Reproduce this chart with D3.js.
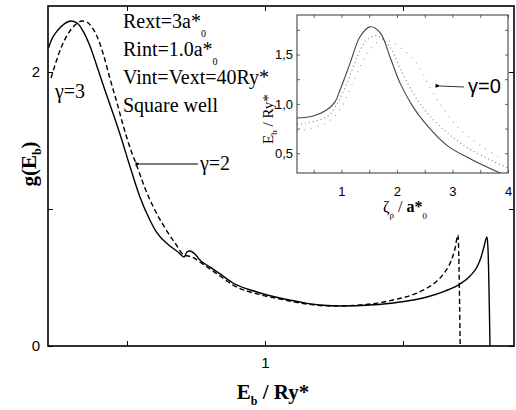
<!DOCTYPE html>
<html>
<head>
<meta charset="utf-8">
<script src="https://cdn.jsdelivr.net/npm/d3@7"></script>
<style>
  body { margin: 0; background: #fff; }
  svg { display: block; }
</style>
</head>
<body>
<div id="graph-container"></div>
<script>
// main panel: g(Eb) vs Eb / Ry*
var gamma3 = [
  [0.2156, 2.175], [0.228, 2.241], [0.250, 2.307], [0.272, 2.350], [0.297, 2.372],
  [0.319, 2.358], [0.341, 2.299], [0.366, 2.190], [0.391, 2.044], [0.420, 1.869],
  [0.449, 1.701], [0.478, 1.526], [0.507, 1.336], [0.547, 1.088], [0.583, 0.920],
  [0.609, 0.825], [0.656, 0.730], [0.685, 0.686], [0.707, 0.650], [0.717, 0.686],
  [0.728, 0.693], [0.746, 0.672], [0.764, 0.628], [0.801, 0.576], [0.837, 0.526],
  [0.884, 0.460], [0.971, 0.394], [1.054, 0.350], [1.127, 0.321], [1.199, 0.299],
  [1.283, 0.292], [1.380, 0.299], [1.489, 0.321], [1.587, 0.358], [1.652, 0.401],
  [1.707, 0.453], [1.743, 0.511], [1.768, 0.577], [1.783, 0.650], [1.793, 0.723],
  [1.804, 0.796], [1.808, 0.700], [1.815, 0]
];
var gamma2 = [
  [0.225, 1.956], [0.243, 2.073], [0.264, 2.190], [0.286, 2.277], [0.312, 2.343],
  [0.337, 2.372], [0.355, 2.365], [0.373, 2.328], [0.391, 2.263], [0.413, 2.139],
  [0.438, 1.956], [0.464, 1.774], [0.489, 1.591], [0.514, 1.431], [0.536, 1.314],
  [0.565, 1.153], [0.601, 0.993], [0.638, 0.861], [0.674, 0.752], [0.707, 0.664],
  [0.736, 0.650], [0.764, 0.613], [0.801, 0.562], [0.837, 0.511], [0.884, 0.445],
  [0.971, 0.380], [1.054, 0.343], [1.127, 0.314], [1.236, 0.292], [1.344, 0.299],
  [1.464, 0.336], [1.543, 0.380], [1.587, 0.423], [1.623, 0.474], [1.652, 0.540],
  [1.674, 0.620], [1.688, 0.708], [1.699, 0.810], [1.707, 0]
];
var mainXTicks = [0.5, 1, 1.5];
var mainXLabels = { 1: "1" };
var mainYTicks = [0, 1, 2];
var mainYLabels = { 0: "0", 2: "2" };

// inset: Eb / Ry* vs zeta_rho / a*0
var insetSolid = [
  [0.2, 0.857], [0.49, 0.877], [0.74, 0.94], [0.885, 1.02], [0.975, 1.14],
  [1.155, 1.41], [1.335, 1.68], [1.515, 1.78], [1.70, 1.72], [1.875, 1.475],
  [2.056, 1.21], [2.29, 0.97], [2.50, 0.81], [2.90, 0.58], [3.37, 0.43], [3.86, 0.30]
];
var insetDotted = [
  [0.2, 0.79], [0.74, 0.87], [0.92, 1.0], [1.10, 1.21], [1.28, 1.47],
  [1.46, 1.65], [1.64, 1.69], [1.87, 1.58], [2.05, 1.37], [2.29, 1.11],
  [2.54, 0.91], [2.90, 0.71], [3.26, 0.56], [3.73, 0.42], [4.0, 0.35]
];
var insetGamma0 = [
  [0.2, 0.72], [0.74, 0.81], [0.97, 0.94], [1.15, 1.14], [1.33, 1.37],
  [1.51, 1.55], [1.75, 1.65], [1.93, 1.62], [2.36, 1.41], [2.6, 1.16],
  [2.83, 0.96], [3.1, 0.76], [3.5, 0.58], [3.9, 0.44]
];
var insetXTicks = [0.5, 1, 1.5, 2, 2.5, 3, 3.5, 4];
var insetYTicks = [0.5, 0.75, 1.0, 1.25, 1.5, 1.75];
var insetYLabels = { 0.5: "0,5", 1: "1,0", 1.5: "1,5" };

var serif = "Liberation Serif";
var sans = "Liberation Sans";

var svg = d3.select("#graph-container")
  .append("svg")
    .attr("width", 516)
    .attr("height", 410);

svg.append("defs").append("marker")
    .attr("id", "arrow")
    .attr("viewBox", "0 0 10 10")
    .attr("refX", 1).attr("refY", 5)
    .attr("markerWidth", 6).attr("markerHeight", 5)
    .attr("orient", "auto-start-reverse")
  .append("path")
    .attr("d", "M10,1 L0,5 L10,9 Z")
    .attr("fill", "#000");

function txt(sel, family, size, weight) {
  return sel.attr("font-family", family)
    .attr("font-size", size)
    .attr("font-weight", weight || "normal");
}

// ---- main panel ----
var x = d3.scaleLinear().domain([0.214, 1.902]).range([48, 514]);
var y = d3.scaleLinear().domain([0, 2.482]).range([346, 6]);

var main = svg.append("g");

var line = d3.line()
    .x(function(d) { return x(d[0]); })
    .y(function(d) { return y(d[1]); })
    .curve(d3.curveMonotoneX);

main.append("path")
    .datum(gamma2)
    .attr("fill", "none")
    .attr("stroke", "#000")
    .attr("stroke-width", 1.4)
    .attr("stroke-dasharray", "5,3")
    .attr("d", line);

main.append("path")
    .datum(gamma3)
    .attr("fill", "none")
    .attr("stroke", "#000")
    .attr("stroke-width", 1.4)
    .attr("d", line);

function styleAxis(g, color) {
  g.select(".domain").remove();
  g.selectAll(".tick line").attr("stroke", color);
  g.selectAll("text").attr("fill", "#000");
}

main.append("g")
    .attr("transform", "translate(0,346)")
    .call(d3.axisBottom(x).tickValues(mainXTicks).tickSizeInner(-5).tickPadding(11)
      .tickFormat(function(d) { return mainXLabels[d] || ""; }))
    .call(styleAxis, "#000")
    .call(txt, sans, 15);

main.append("g")
    .attr("transform", "translate(0,6)")
    .call(d3.axisTop(x).tickValues(mainXTicks).tickSizeInner(-5).tickFormat(""))
    .call(styleAxis, "#000");

main.append("g")
    .attr("transform", "translate(48,0)")
    .call(d3.axisLeft(y).tickValues(mainYTicks).tickSizeInner(-5).tickPadding(8)
      .tickFormat(function(d) { return mainYLabels[d] || ""; }))
    .call(styleAxis, "#000")
    .call(txt, sans, 15);

main.append("g")
    .attr("transform", "translate(514,0)")
    .call(d3.axisRight(y).tickValues(mainYTicks).tickSizeInner(-5).tickFormat(""))
    .call(styleAxis, "#000");

main.append("rect")
    .attr("x", 48).attr("y", 6)
    .attr("width", 466).attr("height", 340)
    .attr("fill", "none")
    .attr("stroke", "#000")
    .attr("stroke-width", 1.6);

// parameter block
var params = [["Rext=3a*", "0"], ["Rint=1.0a*", "0"], ["Vint=Vext=40Ry*", ""], ["Square well", ""]];
params.forEach(function(p, i) {
  var t = main.append("text")
      .attr("x", 123).attr("y", 28 + i * 28)
      .call(txt, serif, 20);
  t.append("tspan").text(p[0]);
  if (p[1]) t.append("tspan").attr("dy", 9).attr("font-size", 10).text(p[1]);
});

main.append("text")
    .attr("x", 55).attr("y", 98)
    .call(txt, serif, 20)
    .text("\u03b3=3");

main.append("line")
    .attr("x1", 198).attr("y1", 164).attr("x2", 140).attr("y2", 164)
    .attr("stroke", "#000").attr("stroke-width", 1)
    .attr("marker-end", "url(#arrow)");
main.append("text")
    .attr("x", 200).attr("y", 170)
    .call(txt, serif, 20)
    .text("\u03b3=2");

// axis titles
var yt = main.append("text")
    .attr("transform", "translate(36,164) rotate(-90)")
    .attr("text-anchor", "middle")
    .call(txt, serif, 21, "bold");
yt.append("tspan").text("g(E");
yt.append("tspan").attr("dy", 5).attr("font-size", 12).text("b");
yt.append("tspan").attr("dy", -5).text(")");

var xt = main.append("text")
    .attr("x", 273).attr("y", 399)
    .attr("text-anchor", "middle")
    .call(txt, serif, 21, "bold");
xt.append("tspan").text("E");
xt.append("tspan").attr("dy", 6).attr("font-size", 12).text("b");
xt.append("tspan").attr("dy", -6).text(" / Ry*");

// ---- inset ----
var ix = d3.scaleLinear().domain([0.2, 4.0]).range([297, 508]);
var iy = d3.scaleLinear().domain([0.3, 1.9]).range([173, 15]);

var inset = svg.append("g");

inset.append("rect")
    .attr("x", 297).attr("y", 15)
    .attr("width", 211).attr("height", 158)
    .attr("fill", "#fff");

var iline = d3.line()
    .x(function(d) { return ix(d[0]); })
    .y(function(d) { return iy(d[1]); })
    .curve(d3.curveCatmullRom);

inset.append("path")
    .datum(insetGamma0)
    .attr("fill", "none")
    .attr("stroke", "#aaa")
    .attr("stroke-width", 1.2)
    .attr("stroke-dasharray", "1,6")
    .attr("d", iline);

inset.append("path")
    .datum(insetDotted)
    .attr("fill", "none")
    .attr("stroke", "#888")
    .attr("stroke-width", 1.2)
    .attr("stroke-dasharray", "1,3")
    .attr("d", iline);

inset.append("path")
    .datum(insetSolid)
    .attr("fill", "none")
    .attr("stroke", "#444")
    .attr("stroke-width", 1.1)
    .attr("d", iline);

inset.append("g")
    .attr("transform", "translate(0,173)")
    .call(d3.axisBottom(ix).tickValues(insetXTicks).tickSizeInner(-3).tickPadding(14)
      .tickFormat(function(d) { return d % 1 === 0 ? String(d) : ""; }))
    .call(styleAxis, "#666")
    .call(txt, sans, 13);

inset.append("g")
    .attr("transform", "translate(0,15)")
    .call(d3.axisTop(ix).tickValues(insetXTicks).tickSizeInner(-3).tickFormat(""))
    .call(styleAxis, "#666");

inset.append("g")
    .attr("transform", "translate(297,0)")
    .call(d3.axisLeft(iy).tickValues(insetYTicks).tickSizeInner(-3).tickPadding(4)
      .tickFormat(function(d) { return insetYLabels[d] || ""; }))
    .call(styleAxis, "#666")
    .call(txt, sans, 13);

inset.append("g")
    .attr("transform", "translate(508,0)")
    .call(d3.axisRight(iy).tickValues(insetYTicks).tickSizeInner(-3).tickFormat(""))
    .call(styleAxis, "#666");

inset.append("rect")
    .attr("x", 297).attr("y", 15)
    .attr("width", 211).attr("height", 158)
    .attr("fill", "none")
    .attr("stroke", "#333")
    .attr("stroke-width", 1);

inset.append("line")
    .attr("x1", 464).attr("y1", 87).attr("x2", 440).attr("y2", 86)
    .attr("stroke", "#333").attr("stroke-width", 1)
    .attr("marker-end", "url(#arrow)");
inset.append("text")
    .attr("x", 468).attr("y", 93)
    .call(txt, sans, 20)
    .text("\u03b3=0");

var iyt = inset.append("text")
    .attr("transform", "translate(273,119) rotate(-90)")
    .attr("text-anchor", "middle")
    .call(txt, serif, 15);
iyt.append("tspan").text("E");
iyt.append("tspan").attr("dy", 4).attr("font-size", 9).text("b");
iyt.append("tspan").attr("dy", -4).text(" / Ry*");

var ixt = inset.append("text")
    .attr("x", 405).attr("y", 212)
    .attr("text-anchor", "middle")
    .call(txt, serif, 16);
ixt.append("tspan").text("\u03b6");
ixt.append("tspan").attr("dy", 6).attr("font-size", 9).text("\u03c1");
ixt.append("tspan").attr("dy", -6).text(" / ");
ixt.append("tspan").attr("font-weight", "bold").text("a*");
ixt.append("tspan").attr("dy", 7).attr("font-size", 9).text("0");
</script>
</body>
</html>
